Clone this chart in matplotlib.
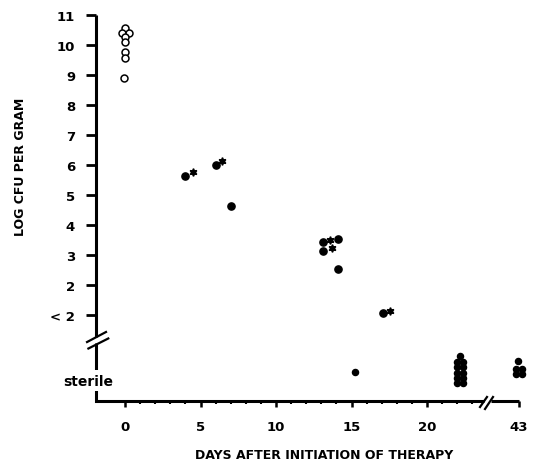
import numpy as np
import matplotlib
matplotlib.use("Agg")
import matplotlib.pyplot as plt

# Day 0 (open circles, before therapy)
open_days = [0.0, -0.22, 0.28, 0.0, 0.0, 0.0, 0.0, -0.05]
open_log = [10.56, 10.4, 10.4, 10.26, 10.09, 9.78, 9.56, 8.9]

# filled dots during therapy
dot_days = [4.0, 6.0, 7.0, 13.1, 13.1, 14.1, 14.1, 17.1]
dot_log = [5.62, 6.01, 4.62, 3.42, 3.13, 3.52, 2.53, 1.06]

# asterisks next to some dots
star_days = [4.5, 6.4, 13.6, 13.7, 17.55]
star_log = [5.76, 6.14, 3.49, 3.22, 1.14]

# sterile cultures (drawn below the axis break)
sterile_days = [15.2,
                22.2, 22.0, 22.4, 22.0, 22.4, 22.0, 22.4, 22.0, 22.4, 22.0, 22.4,
                42.9, 42.8, 43.2, 42.8, 43.2]
sterile_log = [-0.91,
               -0.37, -0.57, -0.57, -0.73, -0.73, -0.93, -0.93, -1.1, -1.1, -1.27, -1.27,
               -0.52, -0.8, -0.8, -0.98, -0.98]

y_ticks = [1, 2, 3, 4, 5, 6, 7, 8, 9, 10, 11]
y_labels = ["< 2", "2", "3", "4", "5", "6", "7", "8", "9", "10", "11"]
x_ticks = [0, 5, 10, 15, 20, 43]
x_minor = [d for d in range(1, 24) if d % 5 != 0]

# broken x axis: days 24..41 squeezed into almost nothing
brk_in = [-10, 24, 41, 60]
brk_out = [-10, 24, 24.09, 43.09]


def fwd(x):
    return np.interp(x, brk_in, brk_out)


def inv(x):
    return np.interp(x, brk_out, brk_in)


plt.rcParams["font.family"] = "DejaVu Sans"
plt.rcParams["font.weight"] = "bold"

fig = plt.figure(figsize=(5.37, 4.64), dpi=100)
ax = fig.add_axes([0.1788, 0.1336, 0.7877, 0.8319])
ax.set_xscale("function", functions=(fwd, inv))
ax.set_xlim(-1.92, 43)
ax.set_ylim(-1.87, 11)

ax.plot(open_days, open_log, "o", ms=5, mfc="white", mec="black", mew=1.1, clip_on=False)
ax.plot(dot_days, dot_log, "o", ms=5.2, color="black")
ax.plot(star_days, star_log, marker=(6, 1, 0), ms=5.5, ls="none", color="black")
ax.plot(sterile_days, sterile_log, "o", ms=4.4, color="black", clip_on=False)

# axes drawn by hand because of the breaks
for s in ax.spines.values():
    s.set_visible(False)
kw = dict(transform=ax.transAxes, color="black", lw=2.2, clip_on=False,
          solid_capstyle="butt", solid_joinstyle="miter")
ax.plot([0, 0], [1, 0.1663], **kw)
ax.plot([0, 0, 0.9173], [0.1507, 0, 0], **kw)
ax.plot([0.9338, 1], [0, 0], **kw)
sl = dict(transform=ax.transAxes, color="black", lw=1.6, clip_on=False)
ax.plot([-0.0212, 0.0236], [0.1528, 0.1788], **sl)
ax.plot([-0.018, 0.029], [0.136, 0.162], **sl)
ax.plot([0.9078, 0.9243], [-0.0155, 0.0104], **sl)
ax.plot([0.9196, 0.9385], [-0.0207, 0.0104], **sl)

ax.set_yticks(y_ticks)
ax.set_yticklabels(y_labels)
ax.set_xticks(x_ticks)
ax.set_xticklabels([str(d) for d in x_ticks])
ax.set_xticks(x_minor, minor=True)
ax.yaxis.set_minor_locator(matplotlib.ticker.NullLocator())
ax.tick_params(axis="y", direction="out", length=7, width=2, pad=8, labelsize=9.5)
ax.tick_params(axis="x", which="major", direction="out", length=4.5, width=1.8, pad=9, labelsize=9.5)
ax.tick_params(axis="x", which="minor", direction="out", length=2.2, width=1.5)

ax.text(-2.45, -1.2, "sterile", ha="center", va="center", fontsize=10,
        fontweight="bold", clip_on=False, zorder=5,
        bbox=dict(facecolor="white", edgecolor="none", pad=2.5))

ax.set_xlabel("DAYS AFTER INITIATION OF THERAPY", fontsize=9, fontweight="bold")
ax.xaxis.set_label_coords(0.54, -0.123)
ax.set_ylabel("LOG CFU PER GRAM", fontsize=9, fontweight="bold")
ax.yaxis.set_label_coords(-0.163, 0.609)

fig.savefig("out.png", dpi=100)
